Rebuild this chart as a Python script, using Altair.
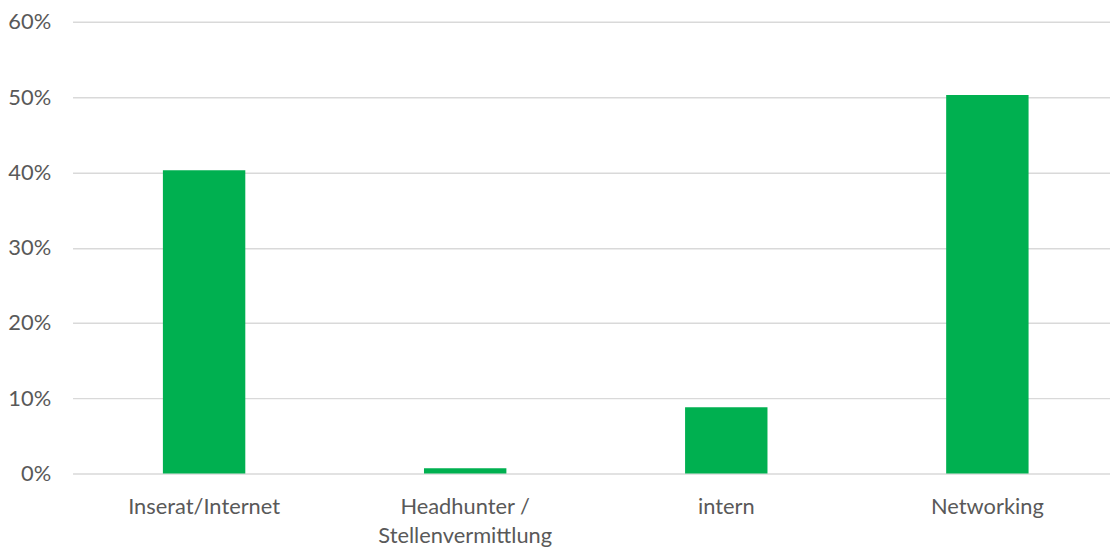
import altair as alt
import pandas as pd

categories = ["Inserat/Internet", "Headhunter /\nStellenvermittlung", "intern", "Networking"]
values = [0.403, 0.007, 0.088, 0.503]

df = pd.DataFrame({"cat": categories, "val": values})

FONT = "Lato"
GREY = "#595959"

chart = alt.Chart(df).mark_bar(color="#00B050").encode(
    x=alt.X("cat:N", sort=categories, title=None,
            scale=alt.Scale(paddingInner=0.6844, paddingOuter=0.329, align=0.526),
            axis=alt.Axis(labelAngle=0, domain=False, ticks=False, labelPadding=23,
                          labelFontSize=22, labelColor=GREY, labelFont=FONT,
                          labelExpr="split(datum.value, '\\n')", labelLineHeight=29)),
    y=alt.Y("val:Q", title=None,
            scale=alt.Scale(domain=[0, 0.6], nice=False),
            axis=alt.Axis(format=".0%", values=[0, 0.1, 0.2, 0.3, 0.4, 0.5, 0.6],
                          domain=False, ticks=False, labelPadding=22,
                          labelFontSize=22, labelColor=GREY, labelFont=FONT,
                          gridColor="#D9D9D9", gridWidth=1.5)),
).properties(
    width=1045, height=455,
    autosize=alt.AutoSizeParams(type="none"),
    padding={"left": 65, "top": 12, "right": 0, "bottom": 74},
).configure_view(stroke=None)

chart.save("out.html", embed_options={"renderer": "svg", "actions": False})
